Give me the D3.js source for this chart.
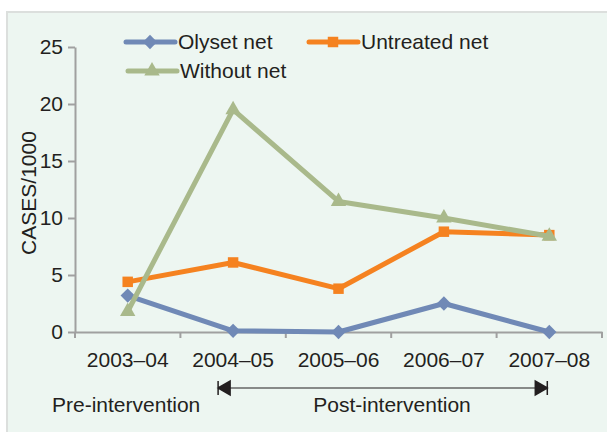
<!DOCTYPE html>
<html>
<head>
<meta charset="utf-8">
<script src="https://cdn.jsdelivr.net/npm/d3@7"></script>
<style>
	body { margin: 0; background: #fff; }
	svg { display: block; font-family: "Liberation Sans", Arial, sans-serif; }
	.axis path, .axis line { stroke: #a0a0a0; stroke-width: 2; }
	.axis text { fill: #231f20; font-size: 21px; }
</style>
</head>
<body>
<svg id="chart" width="607" height="432"></svg>
<script>
	var years = ["2003–04", "2004–05", "2005–06", "2006–07", "2007–08"]
	var olyset = [3.2, 0.1, 0.0, 2.5, 0.0]
	var untreated = [4.4, 6.1, 3.8, 8.8, 8.5]
	var without = [1.8, 19.5, 11.45, 10.0, 8.4]
	var yTicks = [0, 5, 10, 15, 20, 25]

	var series = [
		{ name: "Olyset net", values: olyset, color: "#7089b6", symbol: d3.symbolDiamond2, size: 130 },
		{ name: "Untreated net", values: untreated, color: "#f58220", symbol: d3.symbolSquare2, size: 140 },
		{ name: "Without net", values: without, color: "#a9b98b", symbol: d3.symbolTriangle2, size: 170 }
	]

	var svg = d3.select("#chart"),
		margin = { top: 47, right: 5, bottom: 100, left: 75 },
		width = 607 - margin.left - margin.right,
		height = 432 - margin.top - margin.bottom;

	// panel background
	svg.append("rect")
		.attr("x", 7).attr("y", 12)
		.attr("width", 620).attr("height", 440)
		.style("fill", "#edf6f1")
		.style("stroke", "#dcdfdd")
		.style("stroke-width", 2)

	var x = d3.scaleBand().domain(years).range([0, width]);
	var y = d3.scaleLinear().domain([0, 25]).range([height, 0]);

	var g = svg.append("g")
		.attr("transform", "translate(" + margin.left + "," + margin.top + ")");

	g.append("g")
		.attr("class", "y axis")
		.call(d3.axisLeft(y).tickValues(yTicks).tickSize(7).tickPadding(5).tickSizeOuter(0))

	var xa = g.append("g")
		.attr("class", "x axis")
		.attr("transform", "translate(0," + height + ")")
		.call(d3.axisBottom(x).tickSize(0).tickPadding(20).tickSizeOuter(0))

	// Excel style ticks between categories
	xa.selectAll(".bound")
		.data(d3.range(years.length + 1))
		.enter()
		.append("line")
		.attr("class", "bound")
		.attr("x1", function (d) { return d * x.step() })
		.attr("x2", function (d) { return d * x.step() })
		.attr("y1", 0).attr("y2", 6)

	var line = d3.line()
		.x(function (d, i) { return x(years[i]) + x.bandwidth() / 2 })
		.y(function (d) { return y(d) })

	series.forEach(function (s) {
		g.append("path")
			.datum(s.values)
			.attr("d", line)
			.style("fill", "none")
			.style("stroke", s.color)
			.style("stroke-width", 5)
			.style("stroke-linejoin", "round")

		g.selectAll(".pt-" + s.name.replace(/ /g, ""))
			.data(s.values)
			.enter()
			.append("path")
			.attr("d", d3.symbol().type(s.symbol).size(s.size))
			.attr("transform", function (d, i) {
				return "translate(" + (x(years[i]) + x.bandwidth() / 2) + "," + y(d) + ")"
			})
			.style("fill", s.color)
	})

	// y title
	svg.append("text")
		.text("CASES/1000")
		.attr("transform", "translate(29,193) rotate(-90)")
		.attr("text-anchor", "middle")
		.attr("dy", "0.35em")
		.style("font-size", "21px")
		.style("fill", "#231f20")

	// legend
	var legendPos = [[126, 42], [309, 42], [128, 71]]
	var lg = svg.selectAll(".legend")
		.data(series)
		.enter()
		.append("g")
		.attr("class", "legend")
		.attr("transform", function (d, i) { return "translate(" + legendPos[i][0] + "," + legendPos[i][1] + ")" })

	lg.append("line")
		.attr("x1", 0).attr("x2", 49)
		.style("stroke", function (d) { return d.color })
		.style("stroke-width", 5)
		.style("stroke-linecap", "round")
	lg.append("path")
		.attr("d", function (d) { return d3.symbol().type(d.symbol).size(d.size)() })
		.attr("transform", "translate(24,0)")
		.style("fill", function (d) { return d.color })
	lg.append("text")
		.text(function (d) { return d.name })
		.attr("x", 52)
		.attr("dy", "0.35em")
		.style("font-size", "21px")
		.style("fill", "#231f20")

	// intervention annotation
	var ax1 = margin.left + x(years[1]) + x.bandwidth() / 2 - 15,
		ax2 = margin.left + x(years[4]) + x.bandwidth() / 2 - 2,
		ay = 388;
	var ann = svg.append("g")
	ann.append("line")
		.attr("x1", ax1).attr("x2", ax2)
		.attr("y1", ay).attr("y2", ay)
		.style("stroke", "#231f20").style("stroke-width", 1.2)
	ann.append("path")
		.attr("d", "M" + ax1 + "," + ay + "l12,-7v14z M" + ax1 + "," + (ay - 7) + "v14")
		.style("fill", "#231f20").style("stroke", "#231f20").style("stroke-width", 1.5)
	ann.append("path")
		.attr("d", "M" + ax2 + "," + ay + "l-12,-7v14z M" + ax2 + "," + (ay - 7) + "v14")
		.style("fill", "#231f20").style("stroke", "#231f20").style("stroke-width", 1.5)

	ann.append("text")
		.text("Pre-intervention")
		.attr("x", 52).attr("y", 412)
		.style("font-size", "21px").style("fill", "#231f20")
	ann.append("text")
		.text("Post-intervention")
		.attr("x", 392).attr("y", 412)
		.attr("text-anchor", "middle")
		.style("font-size", "21px").style("fill", "#231f20")
</script>
</body>
</html>
